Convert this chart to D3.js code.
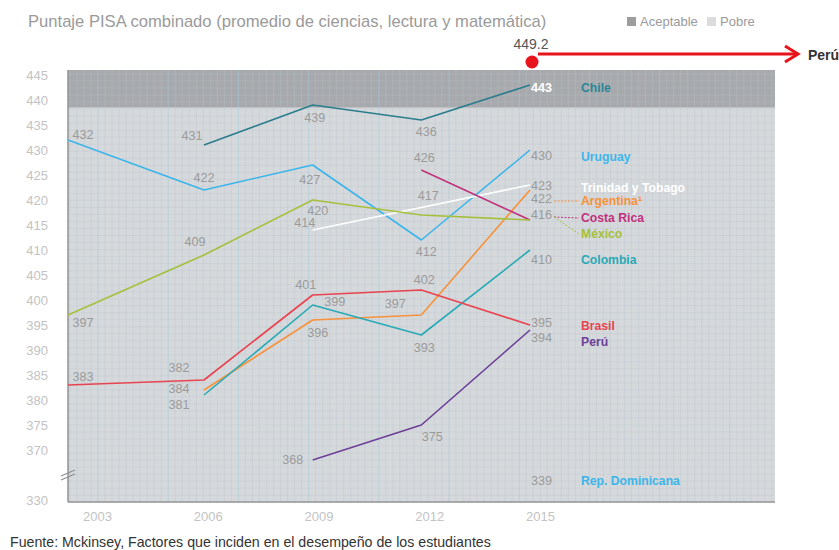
<!DOCTYPE html>
<html><head><meta charset="utf-8">
<script src="https://cdn.jsdelivr.net/npm/d3@7"></script>
<style>
body{margin:0;background:#fff}
svg{display:block;font-family:"Liberation Sans",Arial,Helvetica,sans-serif}
</style>
</head><body>
<svg id="chart" width="839" height="550"></svg>
<script>
// ---------------- DATA ----------------
const years = [2003, 2006, 2009, 2012, 2015];
const yearLabels = ["2003", "2006", "2009", "2012", "2015"];
const yTicks = [445, 440, 435, 430, 425, 420, 415, 410, 405, 400, 395, 390, 385, 380, 375, 370, 330];

const chile         = [null, 431, 439, 436, 443];
const uruguay       = [432, 422, 427, 412, 430];
const trinidad      = [null, null, 414, null, 423];
const argentina     = [null, 382, 396, 397, 422];
const costaRica     = [null, null, null, 426, 416];
const mexico        = [397, 409, 420, 417, 416];
const colombia      = [null, 381, 399, 393, 410];
const brasil        = [383, 384, 401, 402, 395];
const peru          = [null, null, 368, 375, 394];
const repDominicana = [null, null, null, null, 339];

const countryNames = ["Chile", "Uruguay", "Trinidad y Tobago", "Argentina¹", "Costa Rica",
                      "México", "Colombia", "Brasil", "Perú", "Rep. Dominicana"];

const acceptableThreshold = 438.5;
const peruTarget = 449.2;
const peruTargetName = "Perú";
const legendLabels = ["Aceptable", "Pobre"];
const titleText = "Puntaje PISA combinado (promedio de ciencias, lectura y matemática)";
const sourceText = "Fuente: Mckinsey, Factores que inciden en el desempeño de los estudiantes";

// ---------------- STYLE / LAYOUT ----------------
const W = 839, H = 550;
const plot = {left: 68, right: 775, top: 70, bottom: 502};

const series = [
  {name: countryNames[0], data: chile,        color: "#2b7d8d", text: "#2a8797",
   offs: [null, [-12, -9], [2, 13], [5, 12]], endDy: 3, nameDy: 3, endFill: "#ffffff", endBold: true},
  {name: countryNames[1], data: uruguay,      color: "#3cb5ea", text: "#3cb5ea",
   offs: [[15, -5], [0, -12], [-3, 15], [5, 12]], endDy: 6, nameDy: 7},
  {name: countryNames[2], data: trinidad,     color: "#ffffff", text: "#ffffff",
   offs: [null, null, [-8, -7], null], endDy: 1, nameDy: 3},
  {name: countryNames[3], data: argentina,    color: "#f7923b", text: "#f7923b",
   offs: [null, [-25, -22], [5, 13], [-26, -11]], endDy: 9, nameDy: 11, leader: true},
  {name: countryNames[4], data: costaRica,    color: "#c2307c", text: "#c2307c",
   offs: [null, null, null, [3, -12]], endDy: -5, nameDy: -2, leader: true, hideEnd: true},
  {name: countryNames[5], data: mexico,       color: "#a5c03d", text: "#a5c03d",
   offs: [[15, 8], [-9, -13], [5, 11], [7, -19]], endDy: -5, nameDy: 14, leader: true},
  {name: countryNames[6], data: colombia,     color: "#28aab6", text: "#28aab6",
   offs: [null, [-25, 10], [22, -3], [3, 13]], endDy: 10, nameDy: 10},
  {name: countryNames[7], data: brasil,       color: "#e8434f", text: "#e8434f",
   offs: [[15, -8], [-25, 9], [-7, -10], [3, -10]], endDy: -2, nameDy: 1},
  {name: countryNames[8], data: peru,         color: "#6c3f98", text: "#6c3f98",
   offs: [null, null, [-20, 0], [11, 12]], endDy: 8, nameDy: 12},
  {name: countryNames[9], data: repDominicana, color: "#3cb5ea", text: "#3cb5ea",
   offs: [], endDy: -10, nameDy: -10}
];

// ---------------- SCALES ----------------
const x = d3.scaleLinear().domain([2003, 2006, 2015])
  .range([plot.left, plot.left + 136, plot.left + 462]);
const xLabel = d3.scaleLinear().domain([2003, 2015]).range([97, 540]);
const y = d3.scaleLinear().domain([330, 367, 446])
  .range([plot.bottom - 2, 465, plot.top]);

const svg = d3.select("#chart");

// ---------------- BACKGROUND ----------------
svg.append("rect").attr("x", plot.left).attr("y", plot.top)
  .attr("width", plot.right - plot.left).attr("height", plot.bottom - plot.top)
  .attr("fill", "#d6d9dc");
svg.append("rect").attr("x", plot.left).attr("y", plot.top)
  .attr("width", plot.right - plot.left).attr("height", y(acceptableThreshold) - plot.top)
  .attr("fill", "#a7a9ac");

// grid texture
const grid = svg.append("g");
const minorStep = 7.02;
d3.range(98 - minorStep * 4, plot.right, minorStep).forEach((gx, i) => {
  if (gx <= plot.left + 1) return;
  const major = (i % 10 === 4);
  grid.append("line").attr("x1", gx).attr("x2", gx)
    .attr("y1", plot.top).attr("y2", plot.bottom)
    .attr("stroke", major ? "#a6cad8" : "#b9c3cb")
    .attr("stroke-opacity", major ? 0.55 : 0.45).attr("stroke-width", major ? 1 : 0.8);
});
d3.range(plot.top + 4, plot.bottom, minorStep).forEach(gy => {
  grid.append("line").attr("x1", plot.left).attr("x2", plot.right)
    .attr("y1", gy).attr("y2", gy)
    .attr("stroke", "#b9c3cb").attr("stroke-opacity", 0.4).attr("stroke-width", 0.8);
});

// ---------------- AXES ----------------
const yAxis = svg.append("g").attr("transform", `translate(${plot.left},0)`)
  .call(d3.axisLeft(y).tickValues(yTicks).tickSize(0).tickPadding(20).tickFormat(d3.format("d")));
yAxis.select(".domain").remove();
yAxis.selectAll("text").attr("fill", "#c3c3c3").attr("font-size", 13)
  .attr("font-family", "Liberation Sans, Arial, sans-serif");

const xAxis = svg.append("g").attr("transform", `translate(0,${plot.bottom})`)
  .call(d3.axisBottom(xLabel).tickValues(years).tickSize(0).tickPadding(10)
    .tickFormat((d, i) => yearLabels[i]));
xAxis.select(".domain").remove();
xAxis.selectAll("text").attr("fill", "#c3c3c3").attr("font-size", 13)
  .attr("font-family", "Liberation Sans, Arial, sans-serif");

svg.append("line").attr("x1", plot.left).attr("x2", plot.left)
  .attr("y1", plot.top).attr("y2", plot.bottom)
  .attr("stroke", "#929292").attr("stroke-width", 1.5);
svg.append("line").attr("x1", plot.left).attr("x2", plot.right)
  .attr("y1", plot.bottom).attr("y2", plot.bottom)
  .attr("stroke", "#929292").attr("stroke-width", 1.5);

// axis break marker
const breakY = (y(370) + y(330)) / 2;
[-2, 2].forEach(o => {
  svg.append("line").attr("x1", plot.left - 7).attr("y1", breakY + o + 3)
    .attr("x2", plot.left + 7).attr("y2", breakY + o - 3)
    .attr("stroke", "#8e8e8e").attr("stroke-width", 1.2);
});

// ---------------- LINES ----------------
const line = d3.line().x(d => x(d.yr)).y(d => y(d.v));
const lines = svg.append("g");
series.forEach(s => {
  const pts = years.map((yr, i) => ({yr, v: s.data[i]})).filter(d => d.v != null);
  if (pts.length > 1) {
    lines.append("path").attr("d", line(pts)).attr("fill", "none")
      .attr("stroke", s.color).attr("stroke-width", 1.6).attr("stroke-linejoin", "round");
  }
});

// ---------------- VALUE LABELS ----------------
const labels = svg.append("g").attr("font-size", 12.6).attr("fill", "#9b9b9b");
const last = years.length - 1;
series.forEach(s => {
  years.forEach((yr, i) => {
    if (i === last) return;
    const v = s.data[i], o = s.offs[i];
    if (v == null || !o) return;
    labels.append("text").attr("x", x(yr) + o[0]).attr("y", y(v) + o[1])
      .attr("text-anchor", "middle").attr("dominant-baseline", "central").text(v);
  });
  const v = s.data[last];
  if (v != null) {
    const ly = y(v) + s.endDy, ny = y(v) + s.nameDy;
    if (!s.hideEnd) {
      labels.append("text").attr("x", x(years[last]) + 1).attr("y", ly)
        .attr("dominant-baseline", "central")
        .attr("fill", s.endFill || "#9b9b9b").attr("font-weight", s.endBold ? "bold" : null)
        .text(v);
    }
    if (s.leader) {
      svg.append("line").attr("x1", x(years[last]) + 24).attr("y1", ly + 2)
        .attr("x2", x(years[last]) + 49).attr("y2", ny)
        .attr("stroke", s.color).attr("stroke-width", 1).attr("stroke-dasharray", "2,1.5");
    }
    svg.append("text").attr("x", x(years[last]) + 51).attr("y", ny)
      .attr("dominant-baseline", "central").attr("font-size", 12.2).attr("font-weight", "bold")
      .attr("fill", s.text).text(s.name);
  }
});

// ---------------- PERU TARGET ANNOTATION ----------------
const ty = y(peruTarget), tx = x(years[last]);
svg.append("text").attr("x", tx + 1).attr("y", ty - 5).attr("text-anchor", "middle")
  .attr("font-size", 14).attr("fill", "#555").text(d3.format(".1f")(peruTarget));
svg.append("line").attr("x1", tx + 8).attr("x2", W - 41).attr("y1", ty).attr("y2", ty)
  .attr("stroke", "#e8141c").attr("stroke-width", 3);
svg.append("path").attr("d", `M${W - 54},${ty - 8}L${W - 41},${ty}L${W - 54},${ty + 8}`)
  .attr("fill", "none").attr("stroke", "#e8141c").attr("stroke-width", 3);
svg.append("circle").attr("cx", tx + 2).attr("cy", ty + 8).attr("r", 6.5).attr("fill", "#e8141c");
svg.append("text").attr("x", W - 31).attr("y", ty + 6).attr("font-size", 14)
  .attr("font-weight", "bold").attr("fill", "#333").text(peruTargetName);

// ---------------- TITLE / LEGEND / SOURCE ----------------
svg.append("text").attr("x", 28).attr("y", 27).attr("font-size", 16.6)
  .attr("fill", "#9a9a9a").text(titleText);
const legend = svg.append("g").attr("font-size", 13).attr("fill", "#9a9a9a");
legend.append("rect").attr("x", 627).attr("y", 17).attr("width", 9).attr("height", 9).attr("fill", "#9d9d9d");
legend.append("text").attr("x", 640).attr("y", 26).text(legendLabels[0]);
legend.append("rect").attr("x", 707).attr("y", 17).attr("width", 9).attr("height", 9).attr("fill", "#dcdcdc");
legend.append("text").attr("x", 720).attr("y", 26).text(legendLabels[1]);

svg.append("text").attr("x", 10).attr("y", 547).attr("font-size", 14.2)
  .attr("fill", "#333").text(sourceText);
</script>
</body></html>
